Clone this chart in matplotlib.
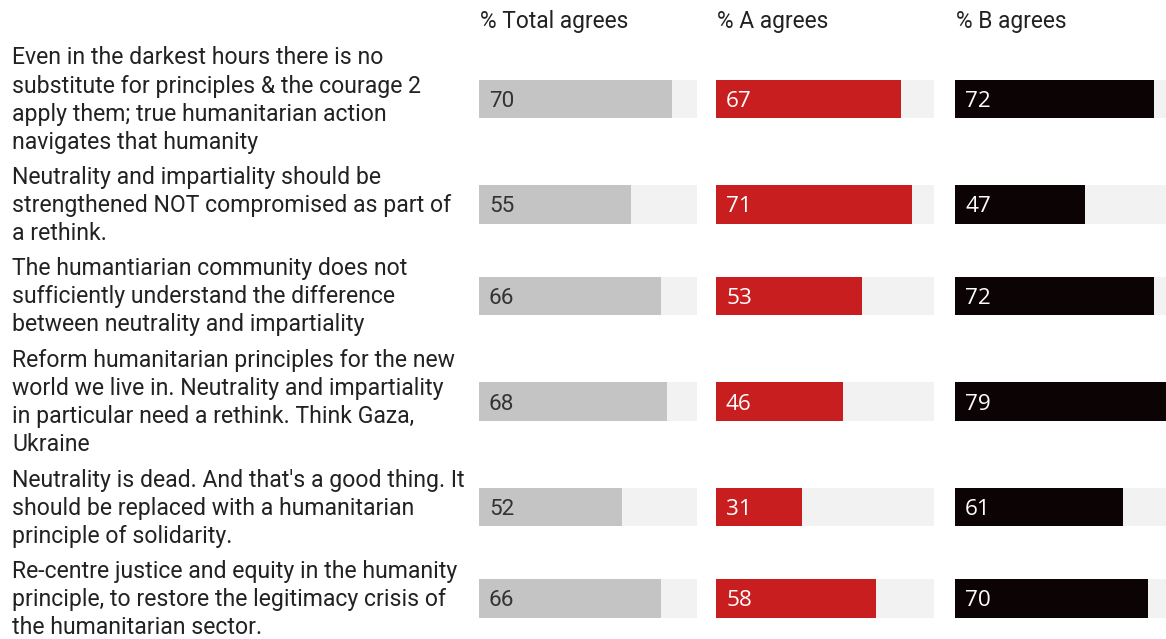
import matplotlib
matplotlib.use("Agg")
import matplotlib.pyplot as plt

# ---- data ----
statements = [
    "Even in the darkest hours there is no\nsubstitute for principles & the courage 2\napply them; true humanitarian action\nnavigates that humanity",
    "Neutrality and impartiality should be\nstrengthened NOT compromised as part of\na rethink.",
    "The humantiarian community does not\nsufficiently understand the difference\nbetween neutrality and impartiality",
    "Reform humanitarian principles for the new\nworld we live in. Neutrality and impartiality\nin particular need a rethink. Think Gaza,\nUkraine",
    "Neutrality is dead. And that's a good thing. It\nshould be replaced with a humanitarian\nprinciple of solidarity.",
    "Re-centre justice and equity in the humanity\nprinciple, to restore the legitimacy crisis of\nthe humanitarian sector.",
]
column_titles = ["% Total agrees", "% A agrees", "% B agrees"]
total_agrees = [70, 55, 66, 68, 52, 66]
a_agrees = [67, 71, 53, 46, 31, 58]
b_agrees = [72, 47, 72, 79, 61, 70]

# ---- layout (pixels) ----
W, H = 1166, 639
fig = plt.figure(figsize=(W / 100, H / 100), dpi=100)
fig.patch.set_facecolor("white")

LINE = 28.0      # text line pitch
GAP = 7.5        # space between rows
TOP = 43.0       # top of first row
BAR_H = 38.5
col_x0 = [479, 716, 955]
col_w = 218
series = [total_agrees, a_agrees, b_agrees]
bar_colors = ["#c4c4c4", "#c81e1f", "#0b0304"]
num_colors = ["#333333", "#ffffff", "#ffffff"]
num_fonts = ["Roboto", "Open Sans", "Open Sans"]
track_color = "#f2f2f2"
text_color = "#222222"

# row centres derived from the number of text lines in each statement
centers = []
y = TOP
for s in statements:
    h = s.count("\n") + 1
    h = h * LINE
    centers.append(y + h / 2)
    y += h + GAP

vmax = max(max(v) for v in series)

# one axes per column, x in data units, y in pixel rows
for k in range(3):
    ax = fig.add_axes([col_x0[k] / W, 0, col_w / W, 1])
    ax.set_xlim(0, vmax)
    ax.set_ylim(H, 0)
    ax.axis("off")
    ax.barh(centers, [vmax] * len(centers), height=BAR_H, color=track_color, left=0)
    ax.barh(centers, series[k], height=BAR_H, color=bar_colors[k], left=0)
    for c, v in zip(centers, series[k]):
        ax.annotate(str(v), xy=(0, c + 8), xytext=(10, 0), textcoords="offset pixels",
                    ha="left", va="baseline", fontsize=16.2, family=num_fonts[k],
                    color=num_colors[k])
    ax.annotate(column_titles[k], xy=(0, 28), xytext=(1, 0), textcoords="offset pixels",
                ha="left", va="baseline", fontsize=16.4, family="Roboto",
                color=text_color, annotation_clip=False)

# statement labels, one line at a time
tax = fig.add_axes([0, 0, 1, 1])
tax.set_xlim(0, W)
tax.set_ylim(H, 0)
tax.axis("off")
tax.set_zorder(-1)
for c, s in zip(centers, statements):
    lines = s.split("\n")
    n = len(lines)
    for i, line in enumerate(lines):
        yb = c + (i - (n - 1) / 2) * LINE + 7.5
        tax.text(12, yb, line, ha="left", va="baseline", fontsize=16.6,
                 family="Roboto", color=text_color)

fig.savefig("out.png", dpi=100)
